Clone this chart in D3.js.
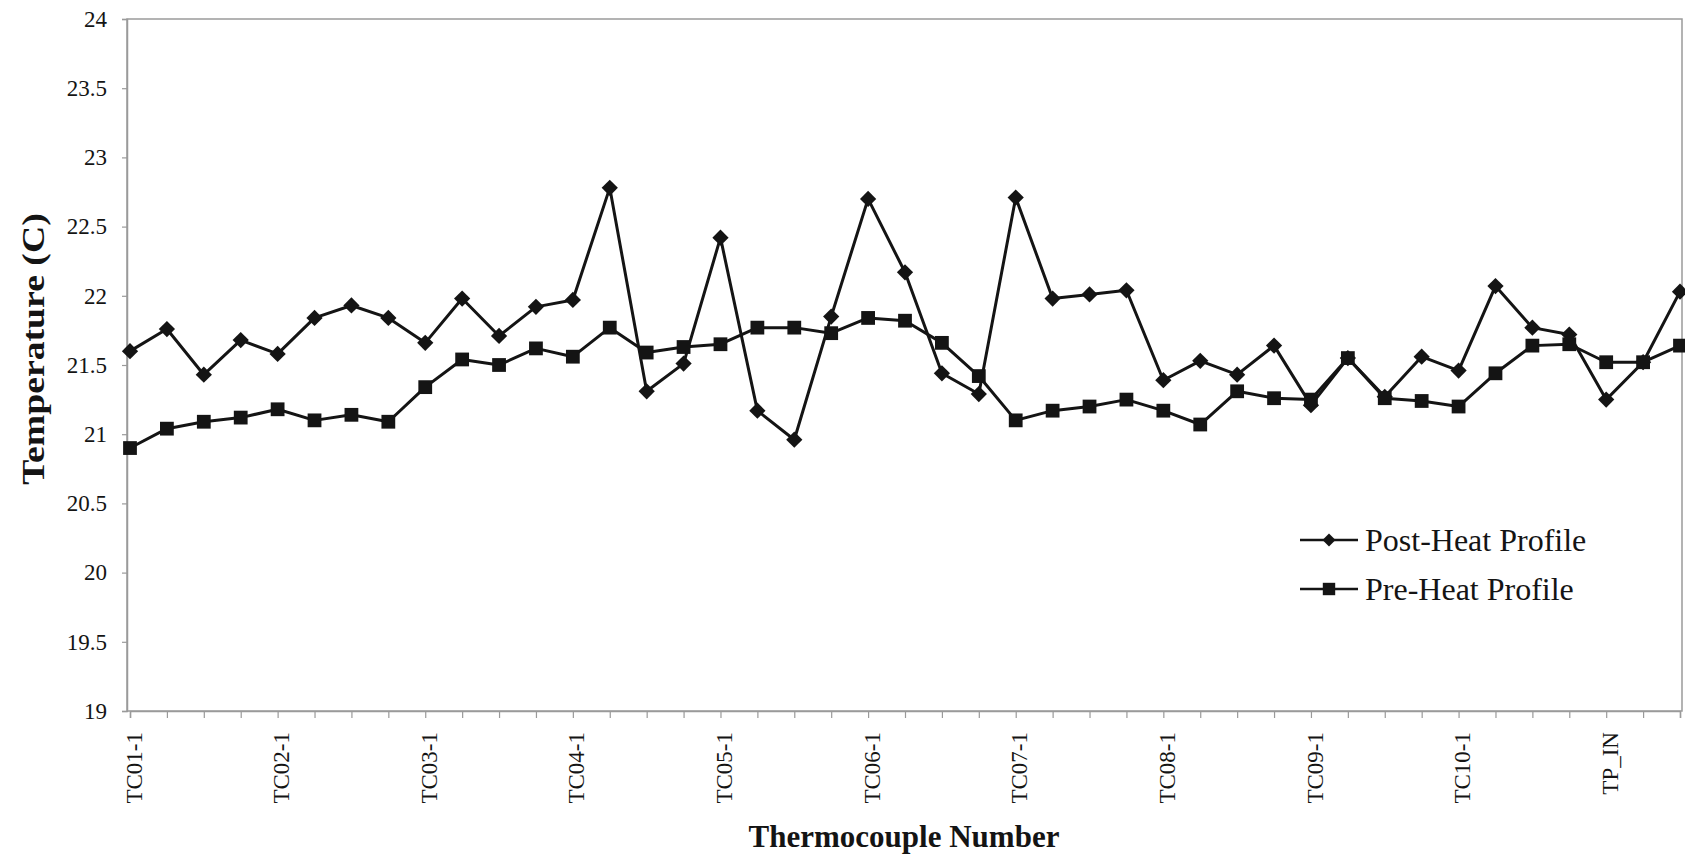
<!DOCTYPE html>
<html>
<head>
<meta charset="utf-8">
<script src="https://cdn.jsdelivr.net/npm/d3@7"></script>
<style>
  html, body { margin: 0; padding: 0; background: #fff; }
  svg { display: block; font-family: "Liberation Serif", "Times New Roman", serif; }
  svg text { font-family: "Liberation Serif", "Times New Roman", serif; }
</style>
</head>
<body>
<svg id="chart" width="1685" height="856"></svg>
<script>
// Thermocouple positions along the test section (four per station plus inlet probes)
const categories = [
  "TC01-1", "TC01-2", "TC01-3", "TC01-4",
  "TC02-1", "TC02-2", "TC02-3", "TC02-4",
  "TC03-1", "TC03-2", "TC03-3", "TC03-4",
  "TC04-1", "TC04-2", "TC04-3", "TC04-4",
  "TC05-1", "TC05-2", "TC05-3", "TC05-4",
  "TC06-1", "TC06-2", "TC06-3", "TC06-4",
  "TC07-1", "TC07-2", "TC07-3", "TC07-4",
  "TC08-1", "TC08-2", "TC08-3", "TC08-4",
  "TC09-1", "TC09-2", "TC09-3", "TC09-4",
  "TC10-1", "TC10-2", "TC10-3", "TC10-4",
  "TP_IN", "TP_MID", "TP_OUT"
];

// Category labels printed under the axis
const tickLabels = ["TC01-1", "TC02-1", "TC03-1", "TC04-1", "TC05-1", "TC06-1",
                    "TC07-1", "TC08-1", "TC09-1", "TC10-1", "TP_IN"];

// Temperatures (C)
const postHeat = [
  21.60, 21.76, 21.43, 21.68, 21.58, 21.84, 21.93, 21.84, 21.66, 21.98,
  21.71, 21.92, 21.97, 22.78, 21.31, 21.51, 22.42, 21.17, 20.96, 21.85,
  22.70, 22.17, 21.44, 21.29, 22.71, 21.98, 22.01, 22.04, 21.39, 21.53,
  21.43, 21.64, 21.21, 21.55, 21.27, 21.56, 21.46, 22.07, 21.77, 21.72,
  21.25, 21.52, 22.03
];
const preHeat = [
  20.90, 21.04, 21.09, 21.12, 21.18, 21.10, 21.14, 21.09, 21.34, 21.54,
  21.50, 21.62, 21.56, 21.77, 21.59, 21.63, 21.65, 21.77, 21.77, 21.73,
  21.84, 21.82, 21.66, 21.42, 21.10, 21.17, 21.20, 21.25, 21.17, 21.07,
  21.31, 21.26, 21.25, 21.55, 21.26, 21.24, 21.20, 21.44, 21.64, 21.65,
  21.52, 21.52, 21.64
];

const seriesNames = ["Post-Heat Profile", "Pre-Heat Profile"];
const yTicks = [19, 19.5, 20, 20.5, 21, 21.5, 22, 22.5, 23, 23.5, 24];

const serif = "Liberation Serif, Times New Roman, serif";
const ink = "#141414";
const frameColor = "#9a9a9a";

const plot = { left: 127, right: 1682, top: 19, bottom: 711 };

const svg = d3.select("#chart");

const x = d3.scalePoint().domain(categories).range([130, 1680]);
const y = d3.scaleLinear().domain([19, 24]).range([plot.bottom, plot.top]);

// Plot-area frame
svg.append("rect")
  .attr("x", plot.left).attr("y", plot.top)
  .attr("width", plot.right - plot.left).attr("height", plot.bottom - plot.top)
  .attr("fill", "none").attr("stroke", frameColor).attr("stroke-width", 1.5);

// Value axis
const yAxis = svg.append("g")
  .attr("transform", `translate(${plot.left},0)`)
  .call(d3.axisLeft(y).tickValues(yTicks).tickSize(5).tickPadding(15)
    .tickFormat(d => Number.isInteger(d) ? String(d) : d.toFixed(1)))
  .attr("font-family", serif)
  .attr("font-size", 23);
yAxis.select(".domain").attr("stroke", frameColor).attr("stroke-width", 1.5);
yAxis.selectAll(".tick line").attr("stroke", frameColor).attr("stroke-width", 1.2);
yAxis.selectAll(".tick text").attr("fill", ink);

// Category axis
const xAxis = svg.append("g")
  .attr("transform", `translate(0,${plot.bottom})`)
  .call(d3.axisBottom(x).tickSize(7)
    .tickFormat(d => tickLabels.includes(d) ? d : ""))
  .attr("font-family", serif)
  .attr("font-size", 23);
xAxis.select(".domain").attr("stroke", frameColor).attr("stroke-width", 1.5);
xAxis.selectAll(".tick line").attr("stroke", frameColor).attr("stroke-width", 1.2);
xAxis.selectAll(".tick text")
  .attr("fill", ink)
  .attr("transform", "rotate(-90)")
  .attr("x", -21).attr("y", 3).attr("dy", "0.35em")
  .style("text-anchor", "end");

// Series lines
const line = d3.line()
  .x((d, i) => x(categories[i]))
  .y(d => y(d));

const series = [
  { name: seriesNames[0], values: postHeat, shape: "diamond" },
  { name: seriesNames[1], values: preHeat, shape: "square" }
];

const diamondPath = d3.symbol(d3.symbolSquare, 132)();
const squarePath = d3.symbol(d3.symbolSquare, 190)();

function marker(sel, shape) {
  sel.attr("d", shape === "diamond" ? diamondPath : squarePath)
    .attr("fill", ink);
}

series.forEach(s => {
  svg.append("path")
    .datum(s.values)
    .attr("fill", "none")
    .attr("stroke", ink)
    .attr("stroke-width", 3)
    .attr("stroke-linejoin", "round")
    .attr("d", line);
});

series.forEach(s => {
  svg.append("g").selectAll("path")
    .data(s.values)
    .join("path")
    .call(marker, s.shape)
    .attr("transform", (d, i) =>
      `translate(${x(categories[i])},${y(d)})` + (s.shape === "diamond" ? " rotate(45)" : ""));
});

// Legend
const legend = svg.append("g").attr("transform", "translate(1300,540)");
series.forEach((s, i) => {
  const g = legend.append("g").attr("transform", `translate(0,${i * 49})`);
  g.append("line").attr("x1", 0).attr("x2", 58).attr("y1", 0).attr("y2", 0)
    .attr("stroke", ink).attr("stroke-width", 2.6);
  g.append("path").call(marker, s.shape)
    .attr("transform", `translate(29,0)` + (s.shape === "diamond" ? " rotate(45) scale(0.8)" : " scale(0.9)"));
  g.append("text")
    .attr("x", 65).attr("y", 0).attr("dy", "0.35em")
    .attr("fill", ink)
    .attr("font-family", serif)
    .attr("font-size", 32)
    .text(s.name);
});

// Axis titles
svg.append("text")
  .attr("x", 904).attr("y", 836).attr("dy", "0.35em")
  .attr("text-anchor", "middle")
  .attr("fill", ink)
  .attr("font-family", serif)
  .attr("font-size", 31).attr("font-weight", "bold")
  .text("Thermocouple Number");

svg.append("text")
  .attr("transform", "translate(33,349) rotate(-90) scale(1.18,1)")
  .attr("dy", "0.35em")
  .attr("text-anchor", "middle")
  .attr("fill", ink)
  .attr("font-family", serif)
  .attr("font-size", 32).attr("font-weight", "bold")
  .text("Temperature (C)");
</script>
</body>
</html>
